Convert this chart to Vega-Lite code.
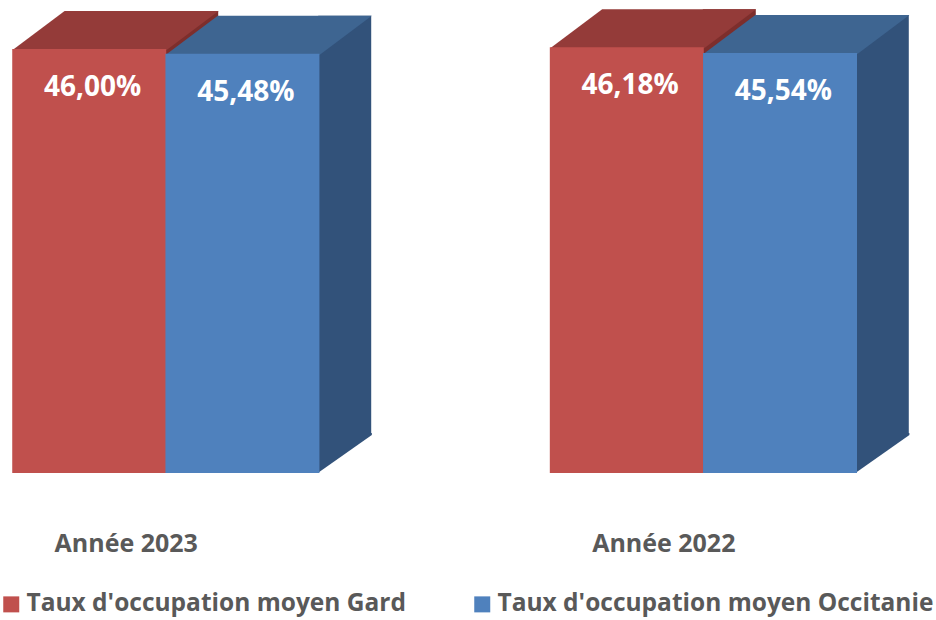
{
  "$schema": "https://vega.github.io/schema/vega-lite/v6.json",
  "width": 844,
  "height": 461,
  "autosize": "none",
  "padding": {"left": 13, "top": 12, "right": 79, "bottom": 147},
  "background": "white",
  "config": {
    "view": {"stroke": null},
    "font": "Open Sans",
    "locale": {"number": {"decimal": ",", "thousands": " ", "grouping": [3], "currency": ["", " €"]}}
  },
  "data": {
    "values": [
      {"annee": "Année 2023", "serie": "Taux d'occupation moyen Gard", "taux": 0.4600},
      {"annee": "Année 2023", "serie": "Taux d'occupation moyen Occitanie", "taux": 0.4548},
      {"annee": "Année 2022", "serie": "Taux d'occupation moyen Gard", "taux": 0.4618},
      {"annee": "Année 2022", "serie": "Taux d'occupation moyen Occitanie", "taux": 0.4554}
    ]
  },
  "encoding": {
    "x": {
      "field": "annee",
      "type": "nominal",
      "sort": ["Année 2023", "Année 2022"],
      "scale": {"paddingInner": 0.43, "paddingOuter": 0},
      "title": null,
      "axis": {
        "domain": false,
        "ticks": false,
        "labelAngle": 0,
        "labelFont": "Open Sans",
        "labelFontSize": 25,
        "labelFontWeight": "bold",
        "labelColor": "#595959",
        "labelOffset": -40,
        "labelBaseline": "alphabetic",
        "labelPadding": 78
      }
    },
    "y": {
      "field": "taux",
      "type": "quantitative",
      "scale": {"domain": [0, 0.5]},
      "axis": null
    }
  },
  "layer": [
    {
      "transform": [{"filter": "indexof(datum.serie, 'Gard') >= 0"}],
      "mark": {"type": "bar", "width": 53, "xOffset": 25.5, "yOffset": -38, "y2Offset": -38, "color": "#7d2e2c"},
      "encoding": {"y2": {"datum": 0}}
    },
    {
      "transform": [{"filter": "indexof(datum.serie, 'Occitanie') >= 0"}],
      "mark": {"type": "bar", "width": 53, "xOffset": 178.5, "yOffset": -38, "y2Offset": -38, "color": "#32527a"},
      "encoding": {"y2": {"datum": 0}}
    },
    {
      "mark": {"type": "point", "shape": "M75,0L129,-38L129,-40L75,-40Z", "size": 4, "filled": true, "opacity": 1, "strokeWidth": 0},
      "encoding": {
        "xOffset": {"field": "serie", "type": "nominal", "scale": {"paddingInner": 0, "paddingOuter": 0}},
        "y": {"datum": 0},
        "color": {
          "condition": {"test": "indexof(datum.serie, 'Gard') >= 0", "value": "#7d2e2c"},
          "value": "#32527a"
        }
      }
    },
    {
      "mark": {"type": "point", "shape": "M-77,1L-25,-38L129,-38L77,1Z", "size": 4, "filled": true, "opacity": 1, "strokeWidth": 0},
      "encoding": {
        "xOffset": {"field": "serie", "type": "nominal", "scale": {"paddingInner": 0, "paddingOuter": 0}},
        "color": {
          "condition": {"test": "indexof(datum.serie, 'Gard') >= 0", "value": "#943b39"},
          "value": "#3e6591"
        }
      }
    },
    {
      "mark": {"type": "bar", "width": {"band": 1.005}},
      "encoding": {
        "xOffset": {"field": "serie", "type": "nominal", "scale": {"paddingInner": 0, "paddingOuter": 0}},
        "y2": {"datum": 0},
        "color": {
          "field": "serie",
          "type": "nominal",
          "scale": {"domain": ["Taux d'occupation moyen Gard", "Taux d'occupation moyen Occitanie"], "range": ["#c0504d", "#4f81bd"]},
          "legend": {
            "title": null,
            "orient": "none",
            "direction": "horizontal",
            "legendX": -14,
            "legendY": 580,
            "symbolType": "square",
            "symbolSize": 256,
            "symbolStrokeWidth": 0,
            "labelFont": "Open Sans",
            "labelFontSize": 24.5,
            "labelFontWeight": "bold",
            "labelColor": "#595959",
            "labelOffset": 3,
            "labelLimit": 0,
            "columnPadding": 64
          }
        }
      }
    },
    {
      "mark": {"type": "text", "color": "white", "fontSize": 28, "fontWeight": "bold", "font": "Open Sans", "baseline": "middle", "dy": 39, "dx": 3},
      "encoding": {
        "xOffset": {"field": "serie", "type": "nominal", "scale": {"paddingInner": 0, "paddingOuter": 0}},
        "text": {"field": "taux", "type": "quantitative", "format": ".2%"}
      }
    }
  ]
}
